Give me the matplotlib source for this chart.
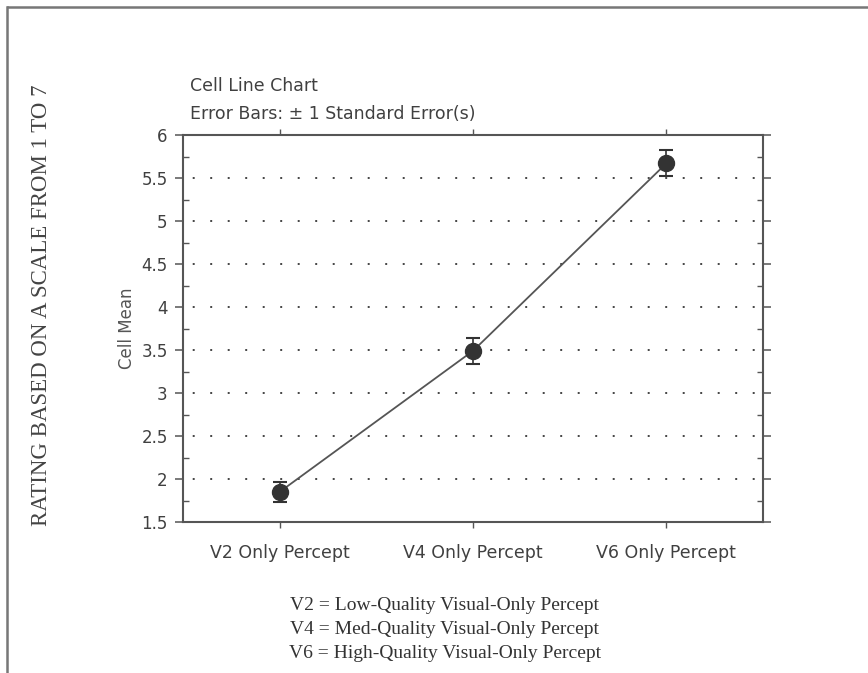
import matplotlib
matplotlib.use("Agg")
import matplotlib.pyplot as plt
from matplotlib.lines import Line2D
from matplotlib.ticker import MultipleLocator

categories = ["V2 Only Percept", "V4 Only Percept", "V6 Only Percept"]
means = [1.85, 3.49, 5.67]
std_errors = [0.12, 0.15, 0.15]
y_ticks = [1.5, 2, 2.5, 3, 3.5, 4, 4.5, 5, 5.5, 6]
y_tick_labels = ["1.5", "2", "2.5", "3", "3.5", "4", "4.5", "5", "5.5", "6"]
grid_levels = [2, 2.5, 3, 3.5, 4, 4.5, 5, 5.5]
legend_lines = [
    "V2 = Low-Quality Visual-Only Percept",
    "V4 = Med-Quality Visual-Only Percept",
    "V6 = High-Quality Visual-Only Percept",
]

W, H = 868, 673
fig = plt.figure(figsize=(W / 100, H / 100), dpi=100)
fig.patch.set_facecolor("white")

sans = ["DejaVu Sans"]
serif = ["Liberation Serif", "DejaVu Serif"]
txt = "#404040"

# page frame (top and left edges)
fig.add_artist(Line2D([8 / W, 1.0], [1 - 7 / H, 1 - 7 / H], transform=fig.transFigure,
                      color="#777777", lw=1.8))
fig.add_artist(Line2D([7 / W, 7 / W], [0.0, 1 - 7 / H], transform=fig.transFigure,
                      color="#777777", lw=1.8))

left, right, top, bottom = 183, 763, 135, 522
ax = fig.add_axes([left / W, 1 - bottom / H, (right - left) / W, (bottom - top) / H])

x = list(range(len(categories)))
ax.plot(x, means, color="#555555", lw=1.3, zorder=3)
ax.errorbar(x, means, yerr=std_errors, fmt="o", color="#333333", ms=11.5,
            ecolor="#333333", elinewidth=1.2, capsize=5, capthick=1.5, zorder=4)

for g in grid_levels:
    ax.axhline(g, color="#444444", lw=1.4, ls=(4, (1, 8)), zorder=1)

ax.set_xlim(-0.5, 2.5)
ax.set_ylim(1.5, 6)
ax.set_yticks(y_ticks)
ax.set_yticklabels(y_tick_labels, fontsize=12, family=sans, color=txt)
ax.yaxis.set_minor_locator(MultipleLocator(0.25))
ax.set_xticks(x)
ax.set_xticklabels(categories, fontsize=12.5, family=sans, color=txt)

for s in ax.spines.values():
    s.set_color("#555555")
    s.set_linewidth(1.5)

ax.tick_params(axis="y", which="major", direction="out", length=6, width=1.1,
               color="#555555", pad=5, right=True)
ax.tick_params(axis="y", which="minor", direction="in", length=4, width=1.0,
               color="#555555", right=True)
ax.tick_params(axis="x", which="major", direction="out", length=4, width=1.0,
               color="#555555", pad=12, top=True)

ax.set_ylabel("Cell Mean", fontsize=12, family=sans, color="#555555", labelpad=4)

fig.text(190 / W, 1 - 86 / H, "Cell Line Chart", fontsize=12.5, family=sans,
         color=txt, va="center", ha="left")
fig.text(190 / W, 1 - 114 / H, "Error Bars: \u00b1 1 Standard Error(s)", fontsize=12.5,
         family=sans, color=txt, va="center", ha="left")

fig.text(42 / W, 1 - 305 / H, "RATING BASED ON A SCALE FROM 1 TO 7", rotation=90,
         fontsize=16.5, family=serif, color="#444444", va="center", ha="center")

for i, line in enumerate(legend_lines):
    fig.text(445 / W, 1 - (606 + 24 * i) / H, line, fontsize=14, family=serif,
             color="#333333", va="center", ha="center")

fig.savefig("out.png", dpi=100, facecolor="white")
